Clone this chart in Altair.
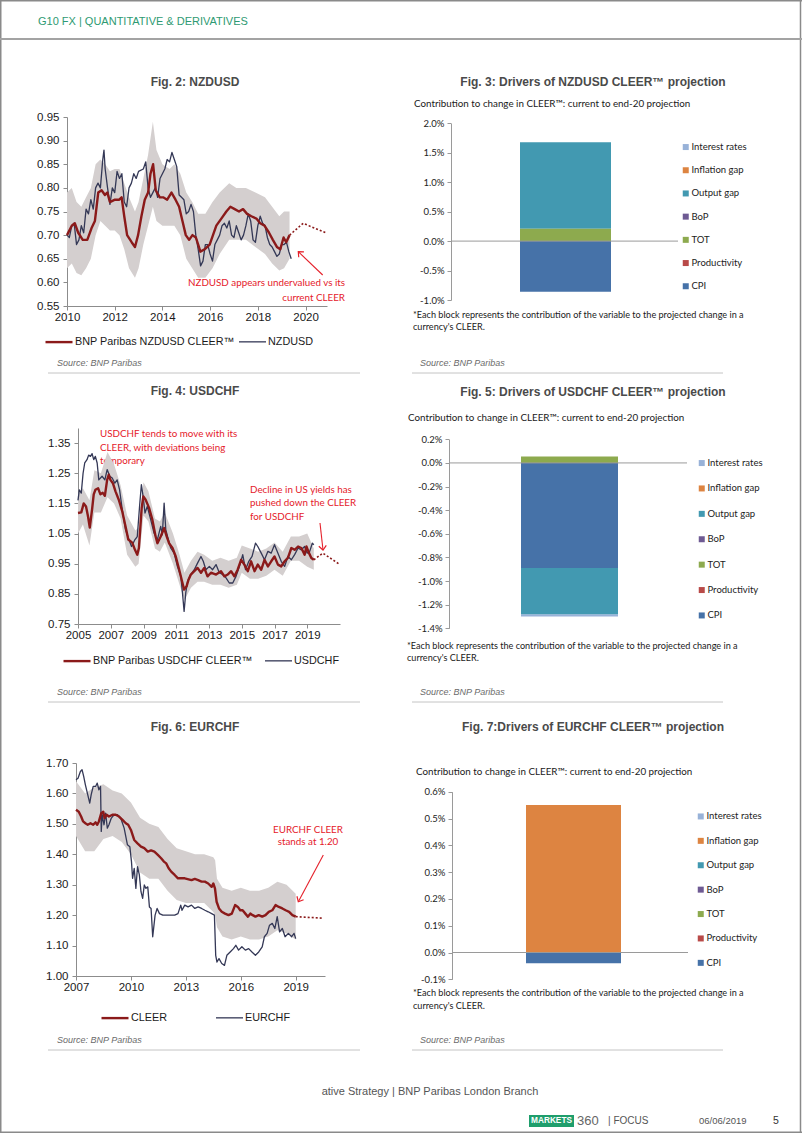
import altair as alt
import pandas as pd

# ---------------- Fig. 2 NZDUSD ----------------
nz_cleer_year = [2010.00, 2010.20, 2010.33, 2010.47, 2010.66, 2010.85, 2011.03, 2011.17, 2011.31, 2011.45,
                 2011.59, 2011.69, 2011.80, 2012.01, 2012.19, 2012.29, 2012.40, 2012.52, 2012.71, 2012.85,
                 2012.98, 2013.12, 2013.26, 2013.40, 2013.50, 2013.61, 2013.72, 2013.89, 2014.03, 2014.20,
                 2014.38, 2014.55, 2014.70, 2014.84, 2014.98, 2015.12, 2015.26, 2015.40, 2015.50, 2015.59,
                 2015.77, 2015.98, 2016.12, 2016.26, 2016.47, 2016.68, 2016.85, 2017.03, 2017.21, 2017.38,
                 2017.55, 2017.73, 2017.94, 2018.10, 2018.28, 2018.47, 2018.63, 2018.80, 2018.94, 2019.08,
                 2019.19, 2019.33]
nz_cleer_val = [0.700, 0.720, 0.725, 0.705, 0.690, 0.690, 0.715, 0.730, 0.790, 0.795,
                0.785, 0.790, 0.770, 0.775, 0.775, 0.780, 0.740, 0.700, 0.685, 0.675,
                0.700, 0.740, 0.775, 0.790, 0.830, 0.850, 0.795, 0.780, 0.780, 0.775,
                0.790, 0.775, 0.760, 0.730, 0.700, 0.690, 0.700, 0.695, 0.680, 0.665,
                0.670, 0.680, 0.700, 0.720, 0.735, 0.750, 0.760, 0.755, 0.750, 0.755,
                0.745, 0.740, 0.735, 0.725, 0.720, 0.705, 0.690, 0.675, 0.670, 0.695,
                0.685, 0.700]
nz_spot_year = [2010.0, 2010.1, 2010.2, 2010.3, 2010.4, 2010.5, 2010.6, 2010.7, 2010.8, 2010.9,
                2011.0, 2011.1, 2011.2, 2011.3, 2011.4, 2011.5, 2011.55, 2011.6, 2011.7, 2011.8,
                2011.9, 2012.0, 2012.1, 2012.2, 2012.3, 2012.4, 2012.5, 2012.6, 2012.7, 2012.8,
                2012.9, 2013.0, 2013.2, 2013.3, 2013.4, 2013.5, 2013.6, 2013.7, 2013.8, 2013.9,
                2014.0, 2014.1, 2014.2, 2014.3, 2014.4, 2014.5, 2014.6, 2014.7, 2014.8, 2014.9,
                2015.0, 2015.1, 2015.2, 2015.3, 2015.4, 2015.5, 2015.6, 2015.7, 2015.8, 2015.9,
                2016.0, 2016.1, 2016.2, 2016.3, 2016.4, 2016.5, 2016.6, 2016.7, 2016.8, 2016.9,
                2017.0, 2017.1, 2017.2, 2017.3, 2017.4, 2017.5, 2017.6, 2017.7, 2017.8, 2017.9,
                2018.0, 2018.1, 2018.2, 2018.3, 2018.4, 2018.5, 2018.6, 2018.7, 2018.8, 2018.9,
                2019.0, 2019.1, 2019.2, 2019.3, 2019.4]
nz_spot_val = [0.700, 0.695, 0.720, 0.725, 0.680, 0.690, 0.720, 0.705, 0.755, 0.745,
               0.775, 0.755, 0.800, 0.810, 0.800, 0.860, 0.880, 0.840, 0.800, 0.765,
               0.800, 0.790, 0.835, 0.820, 0.830, 0.770, 0.760, 0.800, 0.810, 0.830,
               0.820, 0.835, 0.840, 0.855, 0.800, 0.780, 0.790, 0.800, 0.780, 0.820,
               0.830, 0.840, 0.860, 0.855, 0.875, 0.860, 0.845, 0.785, 0.780, 0.775,
               0.745, 0.750, 0.765, 0.750, 0.700, 0.670, 0.635, 0.645, 0.680, 0.680,
               0.660, 0.645, 0.680, 0.690, 0.700, 0.720, 0.725, 0.715, 0.730, 0.700,
               0.695, 0.720, 0.705, 0.690, 0.700, 0.720, 0.745, 0.730, 0.690, 0.685,
               0.720, 0.740, 0.725, 0.720, 0.695, 0.680, 0.675, 0.665, 0.655, 0.660,
               0.680, 0.680, 0.685, 0.665, 0.650]
nz_band_year = [2010.0, 2010.2, 2010.4, 2010.6, 2010.8, 2011.0, 2011.2, 2011.4, 2011.6, 2011.8,
                2012.0, 2012.2, 2012.4, 2012.6, 2012.85, 2013.0, 2013.2, 2013.4, 2013.6, 2013.75,
                2014.0, 2014.3, 2014.5, 2014.75, 2015.0, 2015.25, 2015.5, 2015.8, 2016.1, 2016.4,
                2016.8, 2017.1, 2017.5, 2017.9, 2018.3, 2018.6, 2018.9, 2019.1, 2019.33]
nz_band_hi = [0.790, 0.800, 0.770, 0.760, 0.780, 0.800, 0.850, 0.860, 0.850, 0.835,
              0.840, 0.840, 0.810, 0.780, 0.750, 0.770, 0.820, 0.870, 0.940, 0.880,
              0.850, 0.840, 0.850, 0.830, 0.790, 0.770, 0.745, 0.745, 0.770, 0.790,
              0.810, 0.800, 0.800, 0.790, 0.780, 0.760, 0.740, 0.750, 0.750]
nz_band_lo = [0.630, 0.640, 0.620, 0.615, 0.630, 0.650, 0.700, 0.730, 0.720, 0.710,
              0.710, 0.700, 0.670, 0.630, 0.610, 0.630, 0.680, 0.720, 0.760, 0.730,
              0.720, 0.720, 0.720, 0.700, 0.650, 0.630, 0.610, 0.610, 0.630, 0.660,
              0.690, 0.690, 0.690, 0.675, 0.660, 0.640, 0.625, 0.630, 0.650]
nz_proj_year = [2019.33, 2019.90, 2020.85]
nz_proj_val = [0.700, 0.725, 0.705]

# ---------------- Fig. 4 USDCHF ----------------
uc_cleer_year = [2005.00, 2005.20, 2005.35, 2005.49, 2005.61, 2005.72, 2005.86, 2005.96, 2006.06, 2006.23,
                 2006.37, 2006.51, 2006.64, 2006.78, 2006.88, 2006.98, 2007.13, 2007.29, 2007.49, 2007.70,
                 2007.90, 2008.07, 2008.31, 2008.48, 2008.62, 2008.72, 2008.89, 2008.99, 2009.13, 2009.34,
                 2009.54, 2009.74, 2009.85, 2010.05, 2010.26, 2010.42, 2010.56, 2010.77, 2010.97, 2011.18,
                 2011.38, 2011.48, 2011.63, 2011.75, 2011.89, 2012.10, 2012.30, 2012.51, 2012.71, 2012.91,
                 2013.12, 2013.43, 2013.73, 2013.94, 2014.14, 2014.35, 2014.55, 2014.75, 2014.96, 2015.16,
                 2015.37, 2015.57, 2015.78, 2015.98, 2016.19, 2016.39, 2016.60, 2016.80, 2017.00, 2017.21,
                 2017.41, 2017.62, 2017.82, 2018.03, 2018.23, 2018.44, 2018.64, 2018.84, 2018.95, 2019.11,
                 2019.25, 2019.40]
uc_cleer_val = [1.118, 1.120, 1.150, 1.140, 1.107, 1.070, 1.130, 1.180, 1.195, 1.200,
                1.180, 1.185, 1.175, 1.228, 1.245, 1.228, 1.217, 1.190, 1.162, 1.124,
                1.074, 1.030, 1.020, 0.996, 0.980, 1.002, 1.135, 1.173, 1.162, 1.135,
                1.096, 1.040, 1.018, 1.040, 1.068, 1.040, 1.018, 1.002, 0.974, 0.930,
                0.886, 0.864, 0.875, 0.897, 0.914, 0.925, 0.936, 0.920, 0.936, 0.908,
                0.920, 0.914, 0.925, 0.908, 0.914, 0.925, 0.908, 0.930, 0.963, 0.947,
                0.925, 0.958, 0.925, 0.947, 0.930, 0.963, 0.941, 0.958, 0.974, 0.947,
                0.941, 0.958, 0.969, 1.002, 0.996, 1.007, 1.002, 0.980, 1.007, 0.985,
                0.969, 0.963]
uc_spot_year = [2005.00, 2005.08, 2005.20, 2005.31, 2005.41, 2005.55, 2005.65, 2005.76, 2005.86, 2005.96,
                2006.06, 2006.17, 2006.27, 2006.47, 2006.64, 2006.78, 2006.94, 2007.09, 2007.25, 2007.39,
                2007.54, 2007.70, 2007.90, 2008.11, 2008.27, 2008.48, 2008.62, 2008.76, 2008.87, 2008.99,
                2009.09, 2009.23, 2009.44, 2009.64, 2009.85, 2010.05, 2010.15, 2010.26, 2010.36, 2010.52,
                2010.66, 2010.87, 2011.07, 2011.28, 2011.38, 2011.48, 2011.58, 2011.69, 2011.89, 2012.10,
                2012.30, 2012.51, 2012.65, 2012.81, 2013.02, 2013.22, 2013.43, 2013.63, 2013.83, 2014.04,
                2014.24, 2014.45, 2014.65, 2014.86, 2015.06, 2015.23, 2015.43, 2015.63, 2015.84, 2015.98,
                2016.19, 2016.39, 2016.60, 2016.80, 2017.00, 2017.21, 2017.41, 2017.62, 2017.82, 2018.03,
                2018.23, 2018.44, 2018.64, 2018.84, 2018.99, 2019.15, 2019.31, 2019.40]
uc_spot_val = [1.160, 1.195, 1.184, 1.250, 1.284, 1.295, 1.310, 1.306, 1.315, 1.295,
               1.306, 1.284, 1.228, 1.240, 1.228, 1.262, 1.240, 1.234, 1.217, 1.228,
               1.195, 1.130, 1.063, 1.030, 1.007, 1.030, 1.040, 1.140, 1.212, 1.168,
               1.118, 1.140, 1.096, 1.052, 1.030, 1.074, 1.046, 1.151, 1.063, 1.030,
               1.002, 0.985, 0.941, 0.908, 0.853, 0.792, 0.853, 0.891, 0.914, 0.930,
               0.952, 0.974, 0.958, 0.930, 0.941, 0.930, 0.947, 0.920, 0.914, 0.903,
               0.886, 0.886, 0.908, 0.941, 0.980, 0.930, 0.958, 0.974, 1.018, 1.007,
               0.985, 0.963, 0.991, 0.985, 1.013, 0.985, 0.958, 0.941, 0.974, 0.963,
               0.980, 1.002, 0.996, 1.007, 0.985, 0.991, 1.018, 1.013]
uc_band_year = [2005.0, 2005.3, 2005.7, 2006.0, 2006.4, 2006.8, 2007.2, 2007.6, 2008.0, 2008.5,
                2008.7, 2009.0, 2009.3, 2009.7, 2010.0, 2010.3, 2010.8, 2011.2, 2011.5, 2011.9,
                2012.3, 2012.7, 2013.2, 2013.7, 2014.2, 2014.7, 2015.0, 2015.5, 2016.0, 2016.5,
                2017.0, 2017.5, 2018.0, 2018.5, 2019.0, 2019.4]
uc_band_hi = [1.18, 1.20, 1.16, 1.26, 1.25, 1.32, 1.28, 1.21, 1.11, 1.06,
              1.07, 1.22, 1.19, 1.10, 1.09, 1.12, 1.05, 0.98, 0.92, 0.96,
              0.99, 0.98, 0.96, 0.97, 0.96, 0.97, 1.01, 1.00, 0.99, 1.00,
              1.02, 0.99, 1.04, 1.04, 1.05, 1.00]
uc_band_lo = [1.05, 1.08, 1.01, 1.12, 1.12, 1.17, 1.15, 1.10, 0.98, 0.94,
              0.95, 1.11, 1.09, 1.00, 0.99, 1.02, 0.95, 0.88, 0.83, 0.87,
              0.89, 0.89, 0.88, 0.88, 0.87, 0.88, 0.92, 0.90, 0.90, 0.91,
              0.93, 0.91, 0.96, 0.96, 0.94, 0.93]
uc_proj_year = [2019.40, 2019.95, 2021.00]
uc_proj_val = [0.963, 0.985, 0.947]

# ---------------- Fig. 6 EURCHF ----------------
ec_cleer_year = [2007.00, 2007.15, 2007.28, 2007.39, 2007.51, 2007.64, 2007.79, 2007.94, 2008.07, 2008.16,
                 2008.25, 2008.38, 2008.49, 2008.56, 2008.67, 2008.80, 2008.99, 2009.17, 2009.35, 2009.54,
                 2009.72, 2009.85, 2010.00, 2010.18, 2010.36, 2010.55, 2010.73, 2010.92, 2011.10, 2011.28,
                 2011.47, 2011.65, 2011.80, 2011.93, 2012.06, 2012.20, 2012.39, 2012.57, 2012.94, 2013.31,
                 2013.49, 2013.67, 2013.86, 2014.04, 2014.22, 2014.41, 2014.50, 2014.59, 2014.68, 2014.81,
                 2014.96, 2015.14, 2015.33, 2015.51, 2015.69, 2015.84, 2015.97, 2016.10, 2016.25, 2016.39,
                 2016.52, 2016.65, 2016.80, 2016.98, 2017.17, 2017.35, 2017.53, 2017.72, 2017.90, 2018.08,
                 2018.27, 2018.45, 2018.64, 2018.82, 2019.00]
ec_cleer_val = [1.546, 1.540, 1.524, 1.508, 1.502, 1.497, 1.502, 1.497, 1.505, 1.497,
                1.508, 1.535, 1.540, 1.519, 1.530, 1.524, 1.530, 1.530, 1.524, 1.513,
                1.502, 1.497, 1.480, 1.447, 1.436, 1.425, 1.420, 1.409, 1.413, 1.409,
                1.398, 1.387, 1.376, 1.370, 1.354, 1.343, 1.332, 1.321, 1.321, 1.315,
                1.319, 1.315, 1.310, 1.310, 1.304, 1.293, 1.304, 1.288, 1.244, 1.222,
                1.211, 1.205, 1.200, 1.205, 1.233, 1.227, 1.216, 1.216, 1.205, 1.195,
                1.205, 1.200, 1.195, 1.200, 1.195, 1.200, 1.211, 1.216, 1.233, 1.227,
                1.222, 1.216, 1.211, 1.200, 1.195]
ec_spot_year = [2007.00, 2007.11, 2007.24, 2007.33, 2007.42, 2007.51, 2007.64, 2007.75, 2007.83, 2007.94,
                2008.07, 2008.16, 2008.25, 2008.34, 2008.38, 2008.43, 2008.53, 2008.62, 2008.71, 2008.80,
                2008.93, 2009.08, 2009.26, 2009.44, 2009.63, 2009.81, 2009.94, 2010.03, 2010.09, 2010.18,
                2010.27, 2010.36, 2010.46, 2010.55, 2010.64, 2010.73, 2010.82, 2010.92, 2011.01, 2011.10,
                2011.19, 2011.32, 2011.43, 2011.56, 2011.74, 2012.02, 2012.39, 2012.57, 2012.72, 2012.79,
                2012.94, 2013.12, 2013.31, 2013.49, 2013.67, 2013.86, 2014.04, 2014.22, 2014.41, 2014.56,
                2014.63, 2014.70, 2014.81, 2014.96, 2015.11, 2015.24, 2015.42, 2015.60, 2015.73, 2015.88,
                2016.06, 2016.25, 2016.43, 2016.61, 2016.80, 2016.98, 2017.17, 2017.29, 2017.44, 2017.57,
                2017.72, 2017.86, 2017.99, 2018.12, 2018.27, 2018.42, 2018.60, 2018.78, 2018.91, 2019.00]
ec_spot_val = [1.645, 1.650, 1.672, 1.678, 1.656, 1.629, 1.596, 1.568, 1.596, 1.623,
               1.623, 1.634, 1.612, 1.623, 1.475, 1.530, 1.497, 1.535, 1.486, 1.497,
               1.519, 1.530, 1.530, 1.519, 1.486, 1.431, 1.425, 1.376, 1.321, 1.354,
               1.288, 1.359, 1.332, 1.277, 1.255, 1.299, 1.288, 1.293, 1.227, 1.222,
               1.129, 1.200, 1.222, 1.205, 1.200, 1.200, 1.200, 1.205, 1.233, 1.216,
               1.233, 1.227, 1.233, 1.222, 1.227, 1.222, 1.216, 1.211, 1.205, 1.200,
               1.068, 1.046, 1.057, 1.041, 1.035, 1.068, 1.079, 1.090, 1.101, 1.085,
               1.096, 1.085, 1.090, 1.079, 1.068, 1.079, 1.096, 1.129, 1.140, 1.167,
               1.173, 1.156, 1.195, 1.145, 1.156, 1.129, 1.140, 1.129, 1.140, 1.123]
ec_band_year = [2007.0, 2007.5, 2008.0, 2008.5, 2009.0, 2009.5, 2010.0, 2010.5, 2011.0, 2011.5,
                2012.0, 2012.5, 2013.0, 2013.5, 2014.0, 2014.5, 2014.6, 2014.7, 2015.0, 2015.5,
                2016.0, 2016.5, 2017.0, 2017.5, 2018.0, 2018.5, 2019.0]
ec_band_hi = [1.64, 1.60, 1.62, 1.63, 1.61, 1.60, 1.57, 1.52, 1.50, 1.49,
              1.45, 1.42, 1.41, 1.40, 1.40, 1.39, 1.38, 1.32, 1.29, 1.28,
              1.29, 1.28, 1.28, 1.29, 1.31, 1.30, 1.27]
ec_band_lo = [1.46, 1.41, 1.41, 1.45, 1.46, 1.44, 1.40, 1.34, 1.32, 1.32,
              1.28, 1.25, 1.24, 1.24, 1.24, 1.21, 1.20, 1.16, 1.13, 1.12,
              1.13, 1.12, 1.12, 1.13, 1.15, 1.14, 1.12]
ec_proj_year = [2019.00, 2020.50]
ec_proj_val = [1.195, 1.190]

# ---------------- Drivers (Figs. 3, 5, 7) ----------------
drivers = ["Interest rates", "Inflation gap", "Output gap", "BoP", "TOT", "Productivity", "CPI"]
driver_colors = ["#98b2d8", "#dd8441", "#4299b1", "#6e5a93", "#8daa4e", "#b94a48", "#4672a8"]
stack_rank = [6, 5, 4, 3, 2, 1, 0]
fig3_vals = [0.0, 0.0, 0.0147, 0.0, 0.0021, 0.0, -0.0086]
fig5_vals = [-0.0002, 0.0, -0.0039, 0.0, 0.00055, 0.0, -0.0089]
fig7_vals = [0.0, 0.0055, 0.0, 0.0, 0.0, 0.0, -0.0004]

# ---------------- styles ----------------
PAGE_W, PAGE_H = 802, 1133
SANS = "Liberation Sans, Arial, sans-serif"
NARROW = "Liberation Sans Narrow, Arial Narrow, Liberation Sans, sans-serif"
CAL = "Lato, Carlito, Calibri, sans-serif"
RED = "#8b1a1a"
NAVY = "#343856"
BAND = "#d4cfcf"
ANN = "#e5202a"
AXC = "#8c8c8c"
FRAME = "#8a8a8a"
ONE = pd.DataFrame({"d": [0]})


def txt(s, x, y, size, font=SANS, color="#333333", weight="normal", style="normal", align="left"):
    return alt.Chart(ONE).mark_text(text=s, font=font, fontSize=size, color=color, fontWeight=weight,
                                    fontStyle=style, align=align, baseline="middle").encode(
        x=alt.value(x), y=alt.value(y))


def hrule(x1, x2, y, color, sw):
    return alt.Chart(ONE).mark_rule(color=color, strokeWidth=sw).encode(
        x=alt.value(x1), x2=alt.value(x2), y=alt.value(y))


def vrule(x, y1, y2, color=FRAME, sw=1.5):
    return alt.Chart(ONE).mark_rule(color=color, strokeWidth=sw).encode(
        x=alt.value(x), y=alt.value(y1), y2=alt.value(y2))


def arrow(x1, y1, x2, y2, ang):
    line = alt.Chart(ONE).mark_rule(color=ANN, strokeWidth=1.1).encode(
        x=alt.value(x1), x2=alt.value(x2), y=alt.value(y1), y2=alt.value(y2))
    head = alt.Chart(ONE).mark_point(shape="M-0.9,1L0,0L0.9,1", filled=False, color=ANN, strokeWidth=1.2,
                                     size=70, angle=ang, opacity=1).encode(x=alt.value(x2), y=alt.value(y2))
    return [line, head]


def line_panel(cx, cy, sx, sy, bx, bhi, blo, px, py, names, xdom, xticks, ydom, yticks,
               x0, x1, ytop, ybot, lgx, lgy, colpad):
    cl = pd.DataFrame({"year": cx, "value": cy, "series": [names[0]] * len(cx)})
    sp = pd.DataFrame({"year": sx, "value": sy, "series": [names[1]] * len(sx)})
    band = pd.DataFrame({"year": bx, "hi": bhi, "lo": blo})
    proj = pd.DataFrame({"year": px, "value": py})
    xs = alt.Scale(domain=xdom, range=[x0, x1], nice=False, zero=False)
    ys = alt.Scale(domain=ydom, range=[ybot, ytop], nice=False, zero=False)
    xax = alt.Axis(values=xticks, format="d", title=None, grid=False, orient="bottom", offset=ybot - PAGE_H,
                   labelFont=SANS, labelFontSize=11.5, labelColor="#1a1a1a", domainColor=AXC, tickColor=AXC,
                   tickSize=4, labelPadding=1, labelFlush=False, labelOverlap=False)
    yax = alt.Axis(values=yticks, format=".2f", title=None, grid=False, orient="left", offset=-x0,
                   labelFont=SANS, labelFontSize=11.5, labelColor="#1a1a1a", domainColor=AXC, tickColor=AXC,
                   tickSize=4, labelPadding=4, labelFlush=False, labelOverlap=False)
    leg = alt.Legend(title=None, orient="none", legendX=lgx, legendY=lgy, direction="horizontal",
                     symbolType="stroke", symbolSize=729, symbolStrokeWidth=2.2, labelFont=SANS,
                     labelFontSize=10.8, labelColor="#1a1a1a", columnPadding=colpad, labelOffset=1,
                     labelLimit=400)
    cscale = alt.Scale(domain=names, range=[RED, NAVY])
    wscale = alt.Scale(domain=names, range=[2.4, 1.3])
    band_l = alt.Chart(band).mark_area(color=BAND, opacity=1).encode(
        x=alt.X("year:Q", scale=xs, axis=xax), y=alt.Y("hi:Q", scale=ys, axis=yax), y2="lo:Q")
    spot_l = alt.Chart(sp).mark_line(strokeJoin="round").encode(
        x="year:Q", y="value:Q", color=alt.Color("series:N", scale=cscale, legend=leg),
        strokeWidth=alt.StrokeWidth("series:N", scale=wscale, legend=None))
    cleer_l = alt.Chart(cl).mark_line(strokeJoin="round").encode(
        x="year:Q", y="value:Q", color=alt.Color("series:N", scale=cscale, legend=leg),
        strokeWidth=alt.StrokeWidth("series:N", scale=wscale, legend=None))
    proj_l = alt.Chart(proj).mark_line(color=RED, strokeDash=[2, 2], strokeWidth=1.6).encode(
        x="year:Q", y="value:Q")
    return alt.layer(band_l, spot_l, cleer_l, proj_l)


def bar_panel(vals, ax_x, zero_end, bar_x0, bar_x1, ydom, yticks, ytop, ybot, lgx, lgy, rowpad):
    df = pd.DataFrame({"driver": drivers, "value": vals, "rank": stack_rank, "k": ["a"] * len(drivers)})
    yax = alt.Axis(values=yticks, title=None, grid=False, orient="left", offset=-ax_x,
                   labelExpr="replace(format(datum.value, '.1%'), '\u2212', '-')",
                   labelFont=CAL, labelFontSize=9.5, labelColor="#222222", domainColor="#9a9a9a",
                   tickColor="#9a9a9a", tickSize=4, labelPadding=3, labelFlush=False, labelOverlap=False)
    leg = alt.Legend(title=None, orient="none", legendX=lgx, legendY=lgy, direction="vertical",
                     symbolType="square", symbolSize=36, symbolStrokeWidth=0, labelFont=CAL,
                     labelFontSize=9.5, labelColor="#222222", rowPadding=rowpad, labelOffset=1)
    ys = alt.Scale(domain=ydom, range=[ybot, ytop], nice=False, zero=False)
    bars = alt.Chart(df).mark_bar().encode(
        x=alt.X("k:N", axis=None, scale=alt.Scale(range=[bar_x0, bar_x1], paddingInner=0, paddingOuter=0)),
        y=alt.Y("value:Q", stack="zero", axis=yax, scale=ys),
        color=alt.Color("driver:N", scale=alt.Scale(domain=drivers, range=driver_colors), legend=leg),
        order=alt.Order("rank:Q"))
    zero = alt.Chart(ONE).mark_rule(color="#9a9a9a", strokeWidth=1).encode(
        y=alt.datum(0), x=alt.value(ax_x), x2=alt.value(zero_end))
    return alt.layer(bars, zero)


TITLE = dict(size=12, font=SANS, color="#4a4a4a", weight="bold", align="center")
SRC = dict(size=9, font=SANS, color="#6b6b6b", style="italic")
NOTE = dict(size=9.1, font=CAL, color="#1a1a1a")
SUB = dict(size=9.8, font=CAL, color="#1a1a1a")
ANNT = dict(size=9.8, font=CAL, color=ANN)
NOTE1 = "*Each block represents the contribution of the variable to the projected change in a"
NOTE2 = "currency's CLEER."
SUBT = "Contribution to change in CLEER\u2122: current to end-20 projection"
SOURCE = "Source: BNP Paribas"

# ---------------- panels ----------------
fig2 = line_panel(nz_cleer_year, nz_cleer_val, nz_spot_year, nz_spot_val, nz_band_year, nz_band_hi,
                  nz_band_lo, nz_proj_year, nz_proj_val, ["BNP Paribas NZDUSD CLEER\u2122", "NZDUSD"],
                  [2010, 2020.9], [2010, 2012, 2014, 2016, 2018, 2020], [0.55, 0.95],
                  [0.55, 0.60, 0.65, 0.70, 0.75, 0.80, 0.85, 0.90, 0.95],
                  67, 327, 117, 306, 44, 327, 1)
fig4 = line_panel(uc_cleer_year, uc_cleer_val, uc_spot_year, uc_spot_val, uc_band_year, uc_band_hi,
                  uc_band_lo, uc_proj_year, uc_proj_val, ["BNP Paribas USDCHF CLEER\u2122", "USDCHF"],
                  [2005, 2021], [2005, 2007, 2009, 2011, 2013, 2015, 2017, 2019], [0.75, 1.40],
                  [0.75, 0.85, 0.95, 1.05, 1.15, 1.25, 1.35],
                  78, 340, 428, 624, 62, 646, 9)
fig6 = line_panel(ec_cleer_year, ec_cleer_val, ec_spot_year, ec_spot_val, ec_band_year, ec_band_hi,
                  ec_band_lo, ec_proj_year, ec_proj_val, ["CLEER", "EURCHF"],
                  [2007, 2020.6], [2007, 2010, 2013, 2016, 2019], [1.00, 1.70],
                  [1.00, 1.10, 1.20, 1.30, 1.40, 1.50, 1.60, 1.70],
                  76, 325, 763, 976, 100, 1003, 45)
fig3 = bar_panel(fig3_vals, 451, 678, 520, 611, [-0.01, 0.02],
                 [-0.01, -0.005, 0, 0.005, 0.01, 0.015, 0.02], 123.3, 300, 681, 142.3, 12.2)
fig5 = bar_panel(fig5_vals, 449, 687, 521, 618, [-0.014, 0.002],
                 [-0.014, -0.012, -0.010, -0.008, -0.006, -0.004, -0.002, 0, 0.002],
                 439.3, 628.3, 697, 458.3, 14.4)
fig7 = bar_panel(fig7_vals, 452, 688, 526, 621, [-0.001, 0.006],
                 [-0.001, 0, 0.001, 0.002, 0.003, 0.004, 0.005, 0.006], 791.7, 979.3, 696, 811.7, 13.4)

# ---------------- page decorations ----------------
deco = [
    # frame & header
    vrule(0.75, 0, PAGE_H), vrule(800.5, 0, PAGE_H),
    hrule(0, PAGE_W, 0.75, FRAME, 1.5), hrule(0, PAGE_W, 1132.2, FRAME, 1.5),
    txt("G10 FX | QUANTITATIVE & DERIVATIVES", 38, 22, 11, font=NARROW, color="#2e9a72"),
    hrule(0, PAGE_W, 39, "#a3a3a3", 2),
    # row 1 texts
    txt("Fig. 2: NZDUSD", 195, 82, **TITLE),
    txt("Fig. 3: Drivers of NZDUSD CLEER\u2122 projection", 593, 82, **TITLE),
    txt(SUBT, 414, 104, **SUB),
    txt(NOTE1, 413, 315, **NOTE), txt(NOTE2, 413, 326.5, **NOTE),
    txt(SOURCE, 57, 363, **SRC), txt(SOURCE, 420, 363, **SRC),
    hrule(48, 360, 373, "#c4c4c4", 1), hrule(412, 723, 373, "#c4c4c4", 1),
    txt("NZDUSD appears undervalued vs its", 345, 283.3, align="right", **ANNT),
    txt("current CLEER", 345, 297.7, align="right", **ANNT),
    *arrow(322.7, 275, 298.3, 251.7, 313.7),
    # row 2 texts
    txt("Fig. 4: USDCHF", 195, 391, **TITLE),
    txt("Fig. 5: Drivers of USDCHF CLEER\u2122 projection", 593, 391.7, **TITLE),
    txt(SUBT, 408, 417.7, **SUB),
    txt(NOTE1, 407, 645.7, **NOTE), txt(NOTE2, 407, 657.7, **NOTE),
    txt(SOURCE, 57, 692, **SRC), txt(SOURCE, 420, 692, **SRC),
    hrule(48, 360, 702, "#c4c4c4", 1), hrule(412, 723, 702, "#c4c4c4", 1),
    txt("USDCHF tends to move with its", 100, 434, **ANNT),
    txt("CLEER, with deviations being", 100, 448.3, **ANNT),
    txt("temporary", 100, 461, **ANNT),
    txt("Decline in US yields has", 250, 490, **ANNT),
    txt("pushed down the CLEER", 250, 503.3, **ANNT),
    txt("for USDCHF", 250, 516.7, **ANNT),
    *arrow(320, 523, 323, 550, 173.7),
    # row 3 texts
    txt("Fig. 6: EURCHF", 195, 727, **TITLE),
    txt("Fig. 7:Drivers of EURCHF CLEER\u2122 projection", 593, 727.3, **TITLE),
    txt(SUBT, 416, 771.7, **SUB),
    txt(NOTE1, 413, 993.3, **NOTE), txt(NOTE2, 413, 1005.7, **NOTE),
    txt(SOURCE, 57, 1040, **SRC), txt(SOURCE, 420, 1040, **SRC),
    hrule(48, 360, 1050, "#c4c4c4", 1), hrule(412, 723, 1050, "#c4c4c4", 1),
    txt("EURCHF CLEER", 308, 830, align="center", **ANNT),
    txt("stands at 1.20", 308, 842.3, align="center", **ANNT),
    *arrow(323.3, 855, 298.3, 901.7, 208.2),
    # footer
    txt("ative Strategy | BNP Paribas London Branch", 430, 1092, 11, font=NARROW, color="#555555",
        align="center"),
    alt.Chart(ONE).mark_rect(color="#1f9e6c").encode(x=alt.value(529), x2=alt.value(574),
                                                     y=alt.value(1115), y2=alt.value(1127)),
    txt("MARKETS", 551.5, 1121.3, 8.3, font=NARROW, color="#ffffff", weight="bold", align="center"),
    txt("360", 577, 1121, 13, font=NARROW, color="#666666"),
    txt("| FOCUS", 608, 1121, 10, font=NARROW, color="#555555"),
    txt("06/06/2019", 699, 1121, 9.5, font=NARROW, color="#555555"),
    txt("5", 773, 1121, 10.5, font=NARROW, color="#333333"),
]

chart = alt.layer(*deco, fig2, fig3, fig4, fig5, fig6, fig7).resolve_scale(
    x="independent", y="independent", color="independent", strokeWidth="independent").resolve_axis(
    x="independent", y="independent").resolve_legend(color="independent", strokeWidth="independent").properties(
    width=PAGE_W, height=PAGE_H, padding=0, background="white",
    autosize=alt.AutoSizeParams(type="none")).configure_view(strokeWidth=0)

chart.save("out.html", embed_options={"renderer": "svg", "actions": False})
